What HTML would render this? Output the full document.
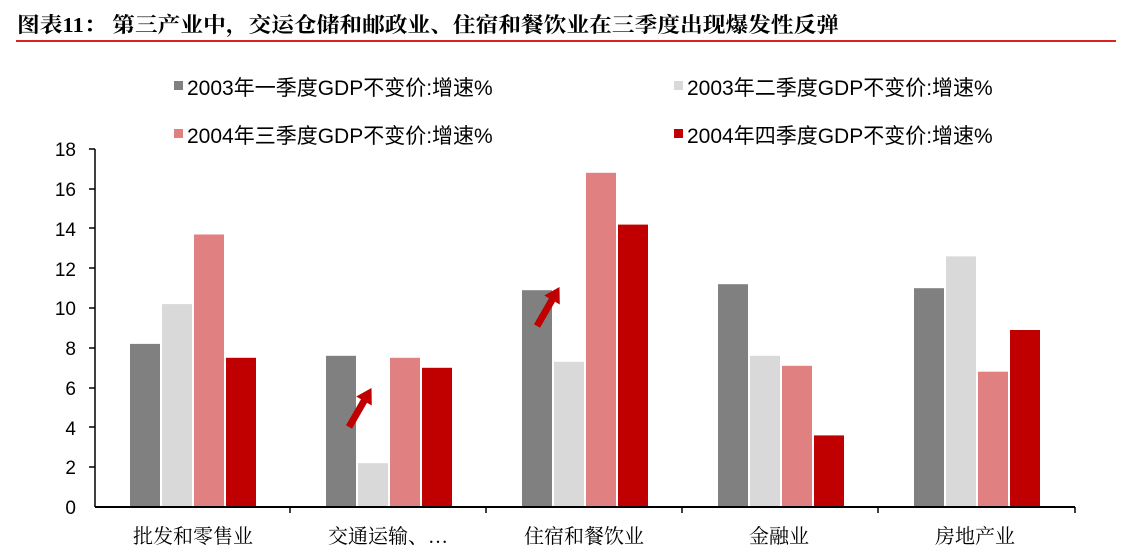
<!DOCTYPE html>
<html><head><meta charset="utf-8"><style>
body{margin:0;background:#fff;width:1132px;height:557px;overflow:hidden}
svg{display:block}
.t{font-family:"Liberation Sans","Noto Sans CJK SC",sans-serif}
.s{font-family:"Liberation Serif","Noto Serif CJK SC",serif}
</style></head><body>
<svg width="1132" height="557" xmlns="http://www.w3.org/2000/svg">
<text x="17" y="32" class="s" font-size="21" font-weight="bold" fill="#000" textLength="822" lengthAdjust="spacingAndGlyphs">图表11：  第三产业中，交运仓储和邮政业、住宿和餐饮业在三季度出现爆发性反弹</text>
<rect x="16" y="40" width="1100" height="2" fill="#d7261e"/>
<g class="t" font-size="21" fill="#000">
<rect x="174" y="81" width="9" height="9" fill="#808080"/><text x="187" y="95">2003年一季度GDP不变价:增速%</text>
<rect x="674" y="81" width="9" height="9" fill="#d9d9d9"/><text x="687" y="95">2003年二季度GDP不变价:增速%</text>
<rect x="174" y="129" width="9" height="9" fill="#e08080"/><text x="187" y="143">2004年三季度GDP不变价:增速%</text>
<rect x="674" y="129" width="9" height="9" fill="#c00000"/><text x="687" y="143">2004年四季度GDP不变价:增速%</text>
</g>
<g class="t" font-size="19" fill="#000" text-anchor="end">
<text x="76" y="514">0</text><text x="76" y="474">2</text><text x="76" y="435">4</text><text x="76" y="395">6</text><text x="76" y="355">8</text><text x="76" y="315">10</text><text x="76" y="276">12</text><text x="76" y="236">14</text><text x="76" y="196">16</text><text x="76" y="156">18</text>
</g>
<g stroke="#000" stroke-width="1.5">
<line x1="95" y1="149" x2="95" y2="507"/>
<line x1="89" y1="149" x2="95" y2="149"/><line x1="89" y1="189" x2="95" y2="189"/><line x1="89" y1="228" x2="95" y2="228"/><line x1="89" y1="268" x2="95" y2="268"/><line x1="89" y1="308" x2="95" y2="308"/><line x1="89" y1="348" x2="95" y2="348"/><line x1="89" y1="388" x2="95" y2="388"/><line x1="89" y1="427" x2="95" y2="427"/><line x1="89" y1="467" x2="95" y2="467"/>
</g>
<g>
<rect x="130" y="343.9" width="30" height="163.1" fill="#808080"/>
<rect x="162" y="304.1" width="30" height="202.9" fill="#d9d9d9"/>
<rect x="194" y="234.5" width="30" height="272.5" fill="#e08080"/>
<rect x="226" y="357.8" width="30" height="149.2" fill="#c00000"/>
<rect x="326" y="355.8" width="30" height="151.2" fill="#808080"/>
<rect x="358" y="463.2" width="30" height="43.8" fill="#d9d9d9"/>
<rect x="390" y="357.8" width="30" height="149.2" fill="#e08080"/>
<rect x="422" y="367.8" width="30" height="139.2" fill="#c00000"/>
<rect x="522" y="290.2" width="30" height="216.8" fill="#808080"/>
<rect x="554" y="361.8" width="30" height="145.2" fill="#d9d9d9"/>
<rect x="586" y="172.8" width="30" height="334.2" fill="#e08080"/>
<rect x="618" y="224.6" width="30" height="282.4" fill="#c00000"/>
<rect x="718" y="284.2" width="30" height="222.8" fill="#808080"/>
<rect x="750" y="355.8" width="30" height="151.2" fill="#d9d9d9"/>
<rect x="782" y="365.8" width="30" height="141.2" fill="#e08080"/>
<rect x="814" y="435.4" width="30" height="71.6" fill="#c00000"/>
<rect x="914" y="288.2" width="30" height="218.8" fill="#808080"/>
<rect x="946" y="256.4" width="30" height="250.6" fill="#d9d9d9"/>
<rect x="978" y="371.7" width="30" height="135.3" fill="#e08080"/>
<rect x="1010" y="330" width="30" height="177" fill="#c00000"/>
</g>
<line x1="95" y1="507" x2="1075" y2="507" stroke="#000" stroke-width="2"/>
<g stroke="#000" stroke-width="1.5">
<line x1="290" y1="507" x2="290" y2="513"/><line x1="486" y1="507" x2="486" y2="513"/><line x1="682" y1="507" x2="682" y2="513"/><line x1="878" y1="507" x2="878" y2="513"/><line x1="1075" y1="507" x2="1075" y2="513"/>
</g>
<g class="s" font-size="20" fill="#000" text-anchor="middle">
<text x="193" y="543">批发和零售业</text><text x="388" y="543">交通运输、…</text><text x="584" y="543">住宿和餐饮业</text><text x="779" y="543">金融业</text><text x="975" y="543">房地产业</text>
</g>
<g fill="#c00000" stroke="none">
<path d="M0,-3.5 L30,-3.5 L30,-9 L45,0 L30,9 L30,3.5 L0,3.5Z" transform="translate(349,427) rotate(-60)"/>
<path d="M0,-3.5 L30,-3.5 L30,-9 L45,0 L30,9 L30,3.5 L0,3.5Z" transform="translate(537,326) rotate(-60)"/>
</g>
</svg>
</body></html>
